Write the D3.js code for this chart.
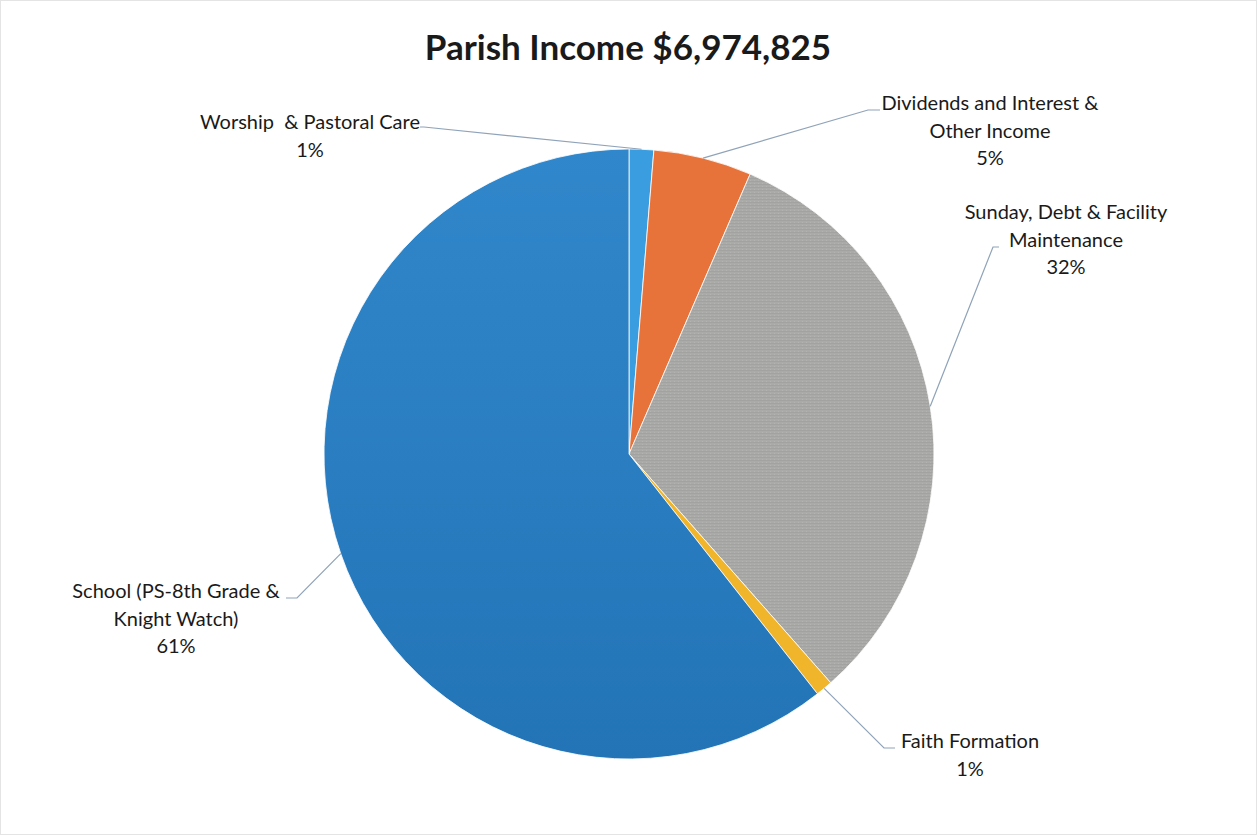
<!DOCTYPE html>
<html>
<head>
<meta charset="utf-8">
<script src="https://cdn.jsdelivr.net/npm/d3@7"></script>
<style>
  html, body { margin: 0; padding: 0; background: #fff; }
  svg { display: block; }
  text { font-family: Lato, "Open Sans", sans-serif; fill: #1a1a1a; white-space: pre; }
</style>
</head>
<body>
<svg id="chart" width="1257" height="835"></svg>
<script>
// ---- data ----
const categories = [
  "Worship  & Pastoral Care",
  "Dividends and Interest & Other Income",
  "Sunday, Debt & Facility Maintenance",
  "Faith Formation",
  "School (PS-8th Grade & Knight Watch)"
];
const values = [1.3, 5.2, 32.0, 0.9, 60.6];          // share of income, %
const percentLabels = ["1%", "5%", "32%", "1%", "61%"];
const labelLines = [
  ["Worship  & Pastoral Care"],
  ["Dividends and Interest &", "Other Income"],
  ["Sunday, Debt & Facility", "Maintenance"],
  ["Faith Formation"],
  ["School (PS-8th Grade &", "Knight Watch)"]
];
const colors = ["#3a9de0", "#e8733a", "#aaaaa8", "#f0b52a", "#2a7dc0"];
const titleText = "Parish Income $6,974,825";

// ---- layout ----
const W = 1257, H = 835;
const cx = 629, cy = 454, R = 305;
const labelPos = [
  { x: 310, y: 129, elbowX: 424, elbowY: 127, endX: 420 },
  { x: 990, y: 110, elbowX: 868, elbowY: 110, endX: 880 },
  { x: 1066, y: 219, elbowX: 993, elbowY: 247, endX: 999 },
  { x: 970, y: 748, elbowX: 884, elbowY: 748, endX: 895 },
  { x: 176, y: 598, elbowX: 297, elbowY: 598, endX: 286 }
];

const svg = d3.select("#chart");
svg.append("rect").attr("x", 0.5).attr("y", 0.5).attr("width", W - 1).attr("height", H - 1)
  .attr("fill", "#fff").attr("stroke", "#e4e4e4");

const defs = svg.append("defs");
const pat = defs.append("pattern").attr("id", "grayTex").attr("width", 4).attr("height", 3)
  .attr("patternUnits", "userSpaceOnUse");
pat.append("rect").attr("width", 4).attr("height", 3).attr("fill", colors[2]);
pat.append("rect").attr("width", 4).attr("height", 1).attr("fill", "#a2a2a0");
pat.append("rect").attr("x", 1).attr("y", 2).attr("width", 1).attr("height", 1).attr("fill", "#b3b3b1");

const grad = defs.append("linearGradient").attr("id", "blueGrad")
  .attr("x1", 0).attr("y1", 0).attr("x2", 0).attr("y2", 1);
grad.append("stop").attr("offset", "0%").attr("stop-color", "#3187cb");
grad.append("stop").attr("offset", "100%").attr("stop-color", "#2274b6");

svg.append("text")
  .attr("x", 628).attr("y", 60)
  .attr("text-anchor", "middle")
  .attr("font-size", 35).attr("font-weight", 700)
  .attr("fill", "#1e2430")
  .text(titleText);

const pie = d3.pie().sort(null).value(d => d)(values);
const arc = d3.arc().innerRadius(0).outerRadius(R);

const g = svg.append("g").attr("transform", `translate(${cx},${cy})`);
g.selectAll("path.slice").data(pie).enter().append("path")
  .attr("class", "slice")
  .attr("d", arc)
  .attr("fill", (d, i) => i === 2 ? "url(#grayTex)" : i === 4 ? "url(#blueGrad)" : colors[i])
  .attr("stroke", "#fff").attr("stroke-width", 0.8);

pie.forEach((d, i) => {
  const a = (d.startAngle + d.endAngle) / 2;
  const px = cx + R * Math.sin(a), py = cy - R * Math.cos(a);
  const lp = labelPos[i];
  svg.append("polyline")
    .attr("points", `${px},${py} ${lp.elbowX},${lp.elbowY} ${lp.endX},${lp.elbowY}`)
    .attr("fill", "none").attr("stroke", "#8fa3b8").attr("stroke-width", 1.2);
});

labelLines.forEach((lines, i) => {
  const lp = labelPos[i];
  const t = svg.append("text").attr("text-anchor", "middle").attr("font-size", 20);
  const all = lines.concat([percentLabels[i]]);
  all.forEach((s, j) => {
    t.append("tspan").attr("x", lp.x).attr("y", lp.y + j * 27.5).text(s);
  });
});
</script>
</body>
</html>
